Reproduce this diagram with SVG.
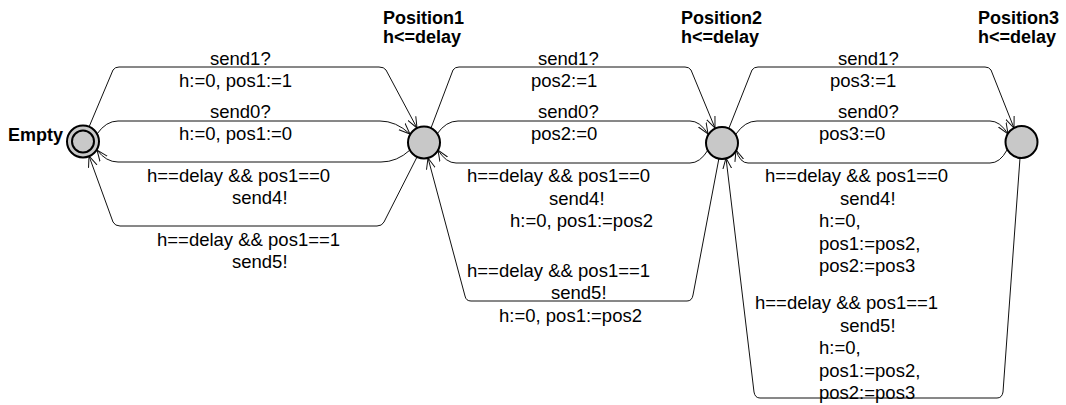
<svg xmlns="http://www.w3.org/2000/svg" width="1066" height="405" viewBox="0 0 1066 405">
<defs>
<marker id="arr" markerUnits="userSpaceOnUse" markerWidth="14" markerHeight="12" refX="11" refY="5" orient="auto">
<path d="M0,0.5 L11,5 L0,9.5" fill="none" stroke="#111" stroke-width="1"/>
</marker>
<style>
.e{fill:none;stroke:#111;stroke-width:1;marker-end:url(#arr)}
.n{fill:#c8c8c8;stroke:#000;stroke-width:2}
.t{font-family:"Liberation Sans",Arial,sans-serif;font-size:18.5px;fill:#000}
.b{font-family:"Liberation Sans",Arial,sans-serif;font-size:18px;font-weight:bold;fill:#000}
</style>
</defs>
<rect width="1066" height="405" fill="#fff"/>
<g id="connectors">
<path class="e" d="M89,127 L113,70 Q115,67 119,67 L379,67 Q384,67 386,70 L417,128"/>
<path class="e" d="M97,134 Q106,121 118,121 L380,121 Q396,121 410,134"/>
<path class="e" d="M410,150 Q397,162 381,162 L118,162 Q106,162 97,150"/>
<path class="e" d="M417,157 L384,222 Q382,226 377,226 L120,226 Q115,226 113,222 L89,156"/>
<path class="e" d="M431,128 L453,70 Q455,67 459,67 L685,67 Q689,67 691,70 L715,128"/>
<path class="e" d="M437,134 Q446,121 458,121 L690,121 Q700,121 708,134"/>
<path class="e" d="M708,150 Q700,163 690,163 L456,163 Q446,163 438,150"/>
<path class="e" d="M719,158 L693,295 Q692,301 687,301 L471,301 Q466,301 465,296 L428,158"/>
<path class="e" d="M729,128 L752,70 Q754,67 758,67 L985,67 Q989,67 991,70 L1014,128"/>
<path class="e" d="M736,134 Q745,121 757,121 L990,121 Q1000,121 1008,134"/>
<path class="e" d="M1007,150 Q1000,163 990,163 L748,163 Q740,163 736,150"/>
<path class="e" d="M1020,158 L1003,392 Q1002,398 997,398 L760,398 Q755,398 754,392 L726,158"/>
</g>
<g id="edge-labels">
<text class="t" x="210" y="65">send1?</text>
<text class="t" x="179" y="86.5">h:=0, pos1:=1</text>
<text class="t" x="210" y="118">send0?</text>
<text class="t" x="179" y="140">h:=0, pos1:=0</text>
<text class="t" x="147" y="182">h==delay &amp;&amp; pos1==0</text>
<text class="t" x="232" y="204">send4!</text>
<text class="t" x="157" y="246">h==delay &amp;&amp; pos1==1</text>
<text class="t" x="232" y="268">send5!</text>

<text class="t" x="538" y="65">send1?</text>
<text class="t" x="531" y="87">pos2:=1</text>
<text class="t" x="538" y="118">send0?</text>
<text class="t" x="531" y="140">pos2:=0</text>
<text class="t" x="467" y="182">h==delay &amp;&amp; pos1==0</text>
<text class="t" x="549" y="204.5">send4!</text>
<text class="t" x="510" y="227">h:=0, pos1:=pos2</text>
<text class="t" x="467" y="277">h==delay &amp;&amp; pos1==1</text>
<text class="t" x="551" y="299">send5!</text>
<text class="t" x="499" y="321.5">h:=0, pos1:=pos2</text>

<text class="t" x="838" y="65">send1?</text>
<text class="t" x="830" y="87">pos3:=1</text>
<text class="t" x="838" y="118">send0?</text>
<text class="t" x="819" y="140">pos3:=0</text>
<text class="t" x="765" y="182">h==delay &amp;&amp; pos1==0</text>
<text class="t" x="840" y="204.5">send4!</text>
<text class="t" x="819" y="227">h:=0,</text>
<text class="t" x="819" y="249.5">pos1:=pos2,</text>
<text class="t" x="819" y="272">pos2:=pos3</text>
<text class="t" x="755" y="309">h==delay &amp;&amp; pos1==1</text>
<text class="t" x="840" y="331.5">send5!</text>
<text class="t" x="819" y="354">h:=0,</text>
<text class="t" x="819" y="376.5">pos1:=pos2,</text>
<text class="t" x="819" y="399">pos2:=pos3</text>
</g>
<g id="Empty">
<circle class="n" cx="83" cy="141.5" r="16"/>
<circle class="n" cx="83" cy="141.5" r="11"/>
<text class="b" x="8" y="140.5">Empty</text>
</g>
<g id="Position1">
<circle class="n" cx="424" cy="142.5" r="16"/>
<text class="b" x="383" y="23.5">Position1</text>
<text class="b" x="383" y="42.5">h&lt;=delay</text>
</g>
<g id="Position2">
<circle class="n" cx="722" cy="143" r="16"/>
<text class="b" x="681" y="23.5">Position2</text>
<text class="b" x="681" y="42.5">h&lt;=delay</text>
</g>
<g id="Position3">
<circle class="n" cx="1021.5" cy="142" r="16"/>
<text class="b" x="978" y="23.5">Position3</text>
<text class="b" x="978" y="42.5">h&lt;=delay</text>
</g>
</svg>
